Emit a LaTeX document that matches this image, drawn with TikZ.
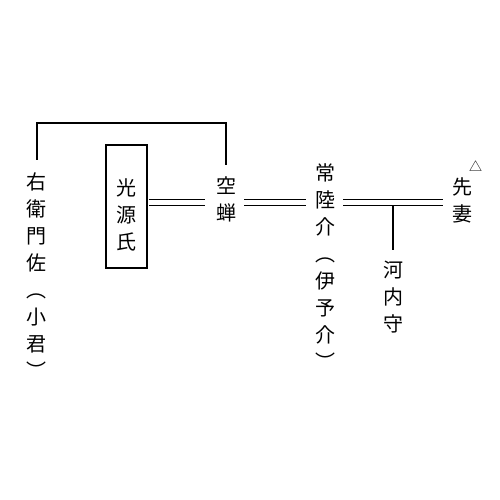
\documentclass[tikz,border=0pt]{standalone}
\usepackage{fontspec}
\newfontfamily\jp{Noto Sans CJK JP}
\newcommand\cc[1]{\hbox to 20pt{\hss#1\hss}}
\begin{document}
\begin{tikzpicture}[x=1pt,y=-1pt,
  col/.style={font=\jp\fontsize{20}{27}\selectfont, inner sep=0pt, text height=17.6pt, anchor=base},
  namebox/.style={col, draw, line width=1.9pt, minimum width=41pt, text height=50.6pt, text depth=72.4pt},
  bracket/.style={line width=1.7pt},
  dbl/.style={double, double distance=4.4pt, line width=1.6pt},
  stem/.style={line width=1.8pt}]
\useasboundingbox (0,0) rectangle (500,500);
\coordinate (top) at (0,122.7);
\coordinate (dy) at (0,202.5);
\node[col] (uemon) at (37,189.6) {\vtop{\cc{右}\cc{衛}\cc{門}\cc{佐}\cc{︵}\cc{小}\cc{君}\cc{︶}}};
\node[namebox] (genji) at (126.5,195.6) {\vtop{\cc{光}\cc{源}\cc{氏}}};
\node[col] (utsu) at (226,193.6) {\vtop{\cc{空}\cc{蝉}}};
\node[col] (hitachi) at (325,180.6) {\vtop{\cc{常}\cc{陸}\cc{介}\cc{︵}\cc{伊}\cc{予}\cc{介}\cc{︶}}};
\node[col] (saki) at (462,194.6) {\vtop{\cc{先}\cc{妻}}};
\node[col] (kawachi) at (393,277.6) {\vtop{\cc{河}\cc{内}\cc{守}}};
\node[font=\jp\fontsize{13}{13}\selectfont, inner sep=0pt] (tri) at (475.5,166.5) {△};
\draw[bracket, shorten <=12pt, shorten >=11pt] (uemon.north) -- (uemon.north |- top) -| (utsu.north);
\draw[dbl, shorten <=0.9pt, shorten >=11pt] (genji.east |- dy) -- (utsu.west |- dy);
\draw[dbl, shorten <=8pt, shorten >=9pt] (utsu.east |- dy) -- (hitachi.west |- dy);
\draw[dbl, shorten <=8pt, shorten >=9pt] (hitachi.east |- dy) -- (saki.west |- dy);
\draw[stem, shorten <=10pt, shorten >=3pt] (kawachi.north) -- (kawachi.north |- dy);
\end{tikzpicture}
\end{document}
